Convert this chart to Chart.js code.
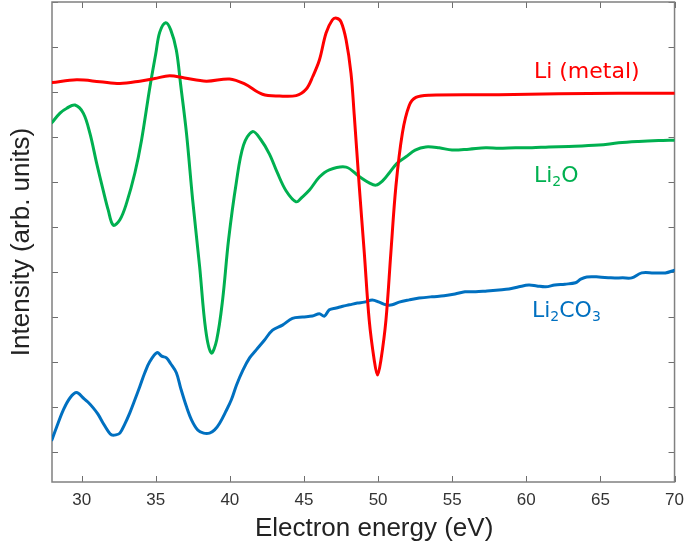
<!DOCTYPE html>
<html>
<head>
<meta charset="utf-8">
<script src="https://cdn.jsdelivr.net/npm/chart.js@4"></script>
<style>
html,body{margin:0;padding:0;background:#fff;}
#wrap{width:692px;height:550px;position:relative;}
</style>
</head>
<body>
<div id="wrap"><canvas id="c" width="692" height="550"></canvas></div>
<script>
// ---- data ----
const xTickValues = [30, 35, 40, 45, 50, 55, 60, 65, 70];
const yTickValues = [0, 1, 2, 3, 4, 5, 6, 7, 8, 9, 10];

const liMetalEnergy = [28.0,29.66,31.23,32.58,33.92,34.93,35.94,36.95,38.41,39.98,41.0,42.2,43.35,44.47,45.14,45.6,46.04,46.49,46.91,47.2,47.5,47.84,48.17,48.39,48.73,49.07,49.4,49.74,49.96,50.19,50.53,50.86,51.2,51.64,52.1,52.55,53.44,58.15,62.19,66.23,70.0];
const liMetalIntensity = [8.21,8.27,8.23,8.19,8.24,8.30,8.36,8.31,8.24,8.29,8.18,7.95,7.91,7.92,8.06,8.35,8.71,9.31,9.6,9.64,9.56,9.16,8.42,7.49,5.9,4.42,2.93,2.04,1.71,2.04,2.93,4.42,5.9,7.09,7.7,7.88,7.93,7.94,7.96,7.97,7.97];

const li2oEnergy = [28.0,28.54,29.0,29.55,30.11,30.56,31.01,31.45,31.79,32.13,32.58,33.03,33.59,34.04,34.6,35.0,35.27,35.67,36.01,36.39,36.68,37.07,37.49,37.96,38.37,38.75,39.11,39.51,39.91,40.43,40.92,41.53,42.07,42.67,43.21,43.8,44.47,44.9,45.37,46.04,46.71,47.84,48.73,49.4,49.86,50.35,50.75,51.29,51.88,52.5,53.22,54.12,54.99,56.13,57.26,58.15,59.28,60.38,61.52,62.87,64.89,66.23,67.58,68.92,70.0];
const li2oIntensity = [7.32,7.53,7.64,7.71,7.53,7.08,6.42,5.82,5.38,5.04,5.16,5.53,6.2,6.93,8.1,8.85,9.33,9.54,9.38,8.93,8.16,7.09,5.6,4.12,2.71,2.2,2.49,3.38,4.71,5.98,6.82,7.12,6.95,6.62,6.2,5.8,5.56,5.67,5.82,6.11,6.27,6.33,6.12,5.98,5.93,6.04,6.2,6.42,6.56,6.71,6.78,6.76,6.71,6.73,6.76,6.75,6.76,6.76,6.78,6.79,6.82,6.87,6.9,6.92,6.93];

const li2co3Energy = [28.0,28.32,28.76,29.21,29.66,30.11,30.42,30.78,31.1,31.45,31.77,32.02,32.31,32.58,32.91,33.25,33.59,33.92,34.26,34.6,35.09,35.4,35.72,36.01,36.39,36.68,37.07,37.42,37.83,38.23,38.63,38.97,39.31,39.71,40.1,40.45,40.88,41.33,41.78,42.34,42.88,43.55,44.22,44.9,45.57,46.04,46.38,46.71,47.18,47.61,48.06,48.6,49.07,49.61,50.08,50.55,50.95,51.42,52.1,52.77,53.64,54.45,55.19,55.86,56.58,57.35,58.15,58.83,59.5,60.17,60.71,61.3,61.92,62.6,63.32,63.67,64.08,64.89,65.7,66.5,67.11,67.78,68.59,69.38,70.0];
const li2co3Intensity = [0.27,0.56,0.93,1.2,1.32,1.2,1.11,0.98,0.84,0.64,0.47,0.38,0.38,0.42,0.62,0.87,1.16,1.45,1.76,2.01,2.21,2.13,2.09,1.96,1.76,1.42,1.01,0.71,0.49,0.42,0.42,0.49,0.64,0.89,1.16,1.49,1.82,2.09,2.27,2.49,2.71,2.82,2.97,3.0,3.02,3.07,3.02,3.16,3.2,3.24,3.27,3.31,3.33,3.38,3.33,3.27,3.27,3.33,3.38,3.42,3.45,3.47,3.51,3.56,3.56,3.58,3.6,3.62,3.67,3.71,3.69,3.67,3.71,3.73,3.76,3.84,3.89,3.89,3.87,3.87,3.87,3.98,3.98,3.98,4.04];

// label anchor points (data coordinates)
const seriesLabels = [
  {main:'Li (metal)', x:60.51, y:8.30, color:'#ff0000'},
  {parts:[['Li',0],['2',1],['O',0]], x:60.51, y:6.01, color:'#00b050'},
  {parts:[['Li',0],['2',1],['CO',0],['3',1]], x:60.38, y:3.01, color:'#0070c0'}
];

function pts(xs, ys){ return xs.map((x,i)=>({x:x, y:ys[i]})); }

const boxPlugin = {
  id:'boxTicks',
  beforeDatasetsDraw(chart){
    const {ctx, chartArea:a, scales} = chart;
    ctx.save();
    ctx.strokeStyle = '#6e6e6e';
    ctx.lineWidth = 1;
    const L = 6;
    scales.x.ticks.forEach(t=>{
      const px = Math.round(scales.x.getPixelForValue(t.value))+0.5;
      ctx.beginPath();
      ctx.moveTo(px, a.bottom); ctx.lineTo(px, a.bottom-L);
      ctx.moveTo(px, a.top); ctx.lineTo(px, a.top+L);
      ctx.stroke();
    });
    scales.y.ticks.forEach(t=>{
      const py = Math.round(scales.y.getPixelForValue(t.value))+0.5;
      ctx.beginPath();
      ctx.moveTo(a.left, py); ctx.lineTo(a.left+L, py);
      ctx.moveTo(a.right, py); ctx.lineTo(a.right-L, py);
      ctx.stroke();
    });
    ctx.strokeStyle = '#808080';
    ctx.lineWidth = 1.5;
    ctx.strokeRect(a.left, a.top, a.right-a.left, a.bottom-a.top);
    ctx.restore();
  },
  afterDatasetsDraw(chart){
    const {ctx, scales} = chart;
    ctx.save();
    ctx.textBaseline = 'alphabetic';
    ctx.textAlign = 'left';
    seriesLabels.forEach(lb=>{
      let px = scales.x.getPixelForValue(lb.x);
      const py = scales.y.getPixelForValue(lb.y);
      ctx.fillStyle = lb.color;
      const parts = lb.parts || [[lb.main,0]];
      parts.forEach(([txt,sub])=>{
        ctx.font = sub ? '14px "DejaVu Sans"' : '22px "DejaVu Sans"';
        ctx.fillText(txt, px, py + (sub ? 4 : 0));
        px += ctx.measureText(txt).width;
      });
    });
    ctx.restore();
  }
};

new Chart(document.getElementById('c'), {
  type:'line',
  data:{
    datasets:[
      {label:'Li (metal)', data:pts(liMetalEnergy, liMetalIntensity), borderColor:'#ff0000'},
      {label:'Li2O', data:pts(li2oEnergy, li2oIntensity), borderColor:'#00b050'},
      {label:'Li2CO3', data:pts(li2co3Energy, li2co3Intensity), borderColor:'#0070c0'}
    ]
  },
  options:{
    responsive:false,
    animation:false,
    devicePixelRatio:1,
    elements:{
      line:{borderWidth:3, tension:0.35, fill:false, borderCapStyle:'round', borderJoinStyle:'round'},
      point:{radius:0, hoverRadius:0}
    },
    layout:{padding:{left:0, right:16, top:2, bottom:0}},
    plugins:{legend:{display:false}, tooltip:{enabled:false}},
    scales:{
      x:{
        type:'linear', min:28, max:70,
        afterBuildTicks(s){ s.ticks = xTickValues.map(v=>({value:v})); },
        afterFit(s){ s.height = 68; },
        grid:{display:false, drawTicks:false},
        border:{display:false},
        ticks:{padding:8, color:'#333', font:{family:'"Liberation Sans", Arial', size:17}},
        title:{display:true, text:'   Electron energy (eV)', color:'#222',
               font:{family:'"Liberation Sans", Arial', size:26}, padding:{top:0, bottom:6}}
      },
      y:{
        type:'linear', min:-0.667, max:10,
        afterBuildTicks(s){ s.ticks = yTickValues.map(v=>({value:v})); },
        afterFit(s){ s.width = 52; },
        grid:{display:false, drawTicks:false},
        border:{display:false},
        ticks:{display:false},
        title:{display:true, text:'Intensity (arb. units)', color:'#222',
               font:{family:'"Liberation Sans", Arial', size:26}, padding:{top:6, bottom:0}}
      }
    }
  },
  plugins:[boxPlugin]
});
</script>
</body>
</html>
